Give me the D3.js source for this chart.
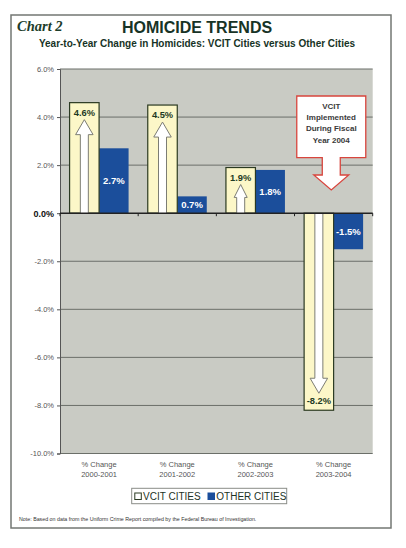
<!DOCTYPE html>
<html>
<head>
<meta charset="utf-8">
<script src="https://cdn.jsdelivr.net/npm/d3@7"></script>
<style>
  body { margin: 0; background: #fff; }
  svg { display: block; font-family: "Liberation Sans", Arial, sans-serif; }
</style>
</head>
<body>
<div id="chart"></div>
<script>
// chart values
var periods = ["2000-2001", "2001-2002", "2002-2003", "2003-2004"];
var vcitValues = [4.6, 4.5, 1.9, -8.2];
var otherValues = [2.7, 0.7, 1.8, -1.5];
var yTicks = [6, 4, 2, 0, -2, -4, -6, -8, -10];
var seriesNames = ["VCIT CITIES", "OTHER CITIES"];
var calloutLines = ["VCIT", "Implemented", "During Fiscal", "Year 2004"];

var w = 406, h = 548;
var plot = { left: 60, right: 372.7, top: 69, bottom: 453.5 };

// plain hyphen for negatives, like the original
function pct(v) { return v.toFixed(1) + "%"; }

var svg = d3.select("#chart").append("svg")
    .attr("width", w)
    .attr("height", h);

// outer frame
svg.append("rect")
    .attr("x", 11).attr("y", 15)
    .attr("width", 380).attr("height", 513)
    .attr("fill", "#fff")
    .attr("stroke", "#737773")
    .attr("stroke-width", 1.5);

// titles
svg.append("text")
    .attr("x", 17).attr("y", 31)
    .style("font-family", "'Liberation Serif', 'Times New Roman', serif")
    .style("font-style", "italic")
    .style("font-weight", "bold")
    .style("font-size", "14.5px")
    .attr("fill", "#1d3d2b")
    .text("Chart 2");

svg.append("text")
    .attr("x", 197).attr("y", 32.5)
    .attr("text-anchor", "middle")
    .style("font-weight", "bold")
    .style("font-size", "16px")
    .attr("fill", "#173326")
    .text("HOMICIDE TRENDS");

svg.append("text")
    .attr("x", 197).attr("y", 46.5)
    .attr("text-anchor", "middle")
    .style("font-weight", "bold")
    .style("font-size", "10px")
    .attr("fill", "#173326")
    .text("Year-to-Year Change in Homicides: VCIT Cities versus Other Cities");

// scales
var y = d3.scaleLinear().domain([-10, 6]).range([plot.bottom, plot.top]);
var x0 = d3.scaleBand().domain(periods).range([plot.left, plot.right]);
var x1 = d3.scaleBand().domain(["vcit", "other"])
    .range([0, x0.bandwidth()])
    .paddingInner(0)
    .paddingOuter(0.325);

// plot background
svg.append("rect")
    .attr("x", plot.left).attr("y", plot.top)
    .attr("width", plot.right - plot.left)
    .attr("height", plot.bottom - plot.top)
    .attr("fill", "#c9cbc4");

// gridlines
svg.append("g").selectAll("line")
    .data(yTicks.filter(function(d) { return d !== 0; }))
    .enter().append("line")
    .attr("x1", plot.left).attr("x2", plot.right)
    .attr("y1", function(d) { return y(d); })
    .attr("y2", function(d) { return y(d); })
    .attr("stroke", "#6b6f69")
    .attr("stroke-width", 1);

// y axis
var yAxis = svg.append("g")
    .attr("transform", "translate(" + plot.left + ",0)")
    .call(d3.axisLeft(y).tickValues(yTicks).tickSize(3).tickFormat(pct));
yAxis.select(".domain").attr("stroke", "#555").attr("stroke-width", 1);
yAxis.selectAll(".tick line").attr("stroke", "#555");
yAxis.selectAll(".tick text")
    .attr("x", -6)
    .style("font-family", "'Liberation Sans', Arial, sans-serif")
    .style("font-size", "7.5px")
    .attr("fill", "#555");
yAxis.selectAll(".tick text").filter(function(d) { return d === 0; })
    .style("font-size", "9px")
    .style("font-weight", "bold")
    .attr("fill", "#111");

// bars
var groups = svg.append("g").selectAll("g")
    .data(periods)
    .enter().append("g")
    .attr("transform", function(d) { return "translate(" + x0(d) + ",0)"; });

var bw = x1.bandwidth();

groups.append("rect")
    .attr("class", "other")
    .attr("x", x1("other"))
    .attr("width", bw)
    .attr("y", function(d, i) { return y(Math.max(0, otherValues[i])); })
    .attr("height", function(d, i) { return Math.abs(y(otherValues[i]) - y(0)); })
    .attr("fill", "#1b4e9b");

groups.append("rect")
    .attr("class", "vcit")
    .attr("x", x1("vcit"))
    .attr("width", bw)
    .attr("y", function(d, i) { return y(Math.max(0, vcitValues[i])); })
    .attr("height", function(d, i) { return Math.abs(y(vcitValues[i]) - y(0)); })
    .attr("fill", "#fcf7c8")
    .attr("stroke", "#2b3a22")
    .attr("stroke-width", 1.2);

// hollow arrows inside the vcit bars
function arrowPath(i) {
    var v = vcitValues[i];
    var dir = v >= 0 ? -1 : 1;
    var cx = x1("vcit") + bw / 2;
    var y0 = y(0);
    var tip = y(v) - dir * 17;
    var len = Math.abs(tip - y0);
    var headH = Math.min(15, len * 0.45);
    var headW = len < 40 ? 13 : 17.5;
    var shaft = 8;
    var base = tip - dir * headH;
    return "M" + (cx - shaft / 2) + "," + y0 +
        "L" + (cx - shaft / 2) + "," + base +
        "L" + (cx - headW / 2) + "," + base +
        "L" + cx + "," + tip +
        "L" + (cx + headW / 2) + "," + base +
        "L" + (cx + shaft / 2) + "," + base +
        "L" + (cx + shaft / 2) + "," + y0;
}

groups.append("path")
    .attr("d", function(d, i) { return arrowPath(i); })
    .attr("fill", "#fff")
    .attr("stroke", "#7c7d74")
    .attr("stroke-width", 1);

// value labels
groups.append("text")
    .attr("x", x1("vcit") + bw / 2)
    .attr("y", function(d, i) {
        var v = vcitValues[i];
        return v >= 0 ? y(v) + 10 : y(v) - 9;
    })
    .attr("dy", "0.35em")
    .attr("text-anchor", "middle")
    .style("font-weight", "bold")
    .style("font-size", "9.3px")
    .attr("fill", "#1e3a24")
    .text(function(d, i) { return pct(vcitValues[i]); });

groups.append("text")
    .attr("x", x1("other") + bw / 2)
    .attr("y", function(d, i) { return (y(otherValues[i]) + y(0)) / 2; })
    .attr("dy", "0.35em")
    .attr("text-anchor", "middle")
    .style("font-weight", "bold")
    .style("font-size", "9.5px")
    .attr("fill", "#fff")
    .text(function(d, i) { return pct(otherValues[i]); });

// zero axis with category ticks
svg.append("line")
    .attr("x1", plot.left).attr("x2", plot.right)
    .attr("y1", y(0)).attr("y2", y(0))
    .attr("stroke", "#222")
    .attr("stroke-width", 1.5);

svg.append("g").selectAll("line")
    .data(periods.concat(["end"]))
    .enter().append("line")
    .attr("x1", function(d, i) { return plot.left + i * x0.step(); })
    .attr("x2", function(d, i) { return plot.left + i * x0.step(); })
    .attr("y1", y(0)).attr("y2", y(0) + 3)
    .attr("stroke", "#222");

// category labels
var catLabels = svg.append("g").selectAll("text")
    .data(periods)
    .enter().append("text")
    .attr("x", function(d) { return x0(d) + x0.bandwidth() / 2; })
    .attr("y", 467)
    .attr("text-anchor", "middle")
    .style("font-size", "7.5px")
    .attr("fill", "#555");
catLabels.append("tspan").text("% Change");
catLabels.append("tspan")
    .attr("x", function(d) { return x0(d) + x0.bandwidth() / 2; })
    .attr("dy", 9.5)
    .text(function(d) { return d; });

// callout
var cx = x0(periods[3]) + x0.bandwidth() * 0.47;
var box = { l: cx - 34.5, r: cx + 34.5, t: 96, b: 157.7 };
var callout = "M" + box.l + "," + box.t +
    "L" + box.r + "," + box.t +
    "L" + box.r + "," + box.b +
    "L" + (cx + 9) + "," + box.b +
    "L" + (cx + 9) + "," + 175 +
    "L" + (cx + 17.5) + "," + 175 +
    "L" + cx + "," + 190 +
    "L" + (cx - 17.5) + "," + 175 +
    "L" + (cx - 9) + "," + 175 +
    "L" + (cx - 9) + "," + box.b +
    "L" + box.l + "," + box.b + "Z";
svg.append("path")
    .attr("d", callout)
    .attr("fill", "#fff")
    .attr("stroke", "#d8453d")
    .attr("stroke-width", 1.3);

svg.append("g").selectAll("text")
    .data(calloutLines)
    .enter().append("text")
    .attr("x", cx)
    .attr("y", function(d, i) { return 108.5 + i * 11.4; })
    .attr("text-anchor", "middle")
    .style("font-weight", "bold")
    .style("font-size", "8px")
    .attr("fill", "#3a3a3a")
    .text(function(d) { return d; });

// legend
svg.append("rect")
    .attr("x", 131.7).attr("y", 488.3)
    .attr("width", 155).attr("height", 15.4)
    .attr("fill", "#fff")
    .attr("stroke", "#8a8d88")
    .attr("stroke-width", 1);

var legendX = [134.3, 207.5];
var legend = svg.append("g").selectAll("g")
    .data(seriesNames)
    .enter().append("g")
    .attr("transform", function(d, i) { return "translate(" + legendX[i] + ",0)"; });
legend.append("rect")
    .attr("x", 0.5).attr("y", 493)
    .attr("width", 6.5).attr("height", 6.5)
    .attr("fill", function(d, i) { return i === 0 ? "#fff" : "#1b4e9b"; })
    .attr("stroke", function(d, i) { return i === 0 ? "#2b3a22" : "#1b4e9b"; })
    .attr("stroke-width", 1);
legend.append("text")
    .attr("x", 8.8).attr("y", 500)
    .style("font-size", "10px")
    .attr("fill", "#1d3326")
    .text(function(d) { return d; });

// note
svg.append("text")
    .attr("x", 19).attr("y", 521)
    .style("font-size", "5.3px")
    .attr("fill", "#333")
    .text("Note: Based on data from the Uniform Crime Report compiled by the Federal Bureau of Investigation.");
</script>
</body>
</html>
